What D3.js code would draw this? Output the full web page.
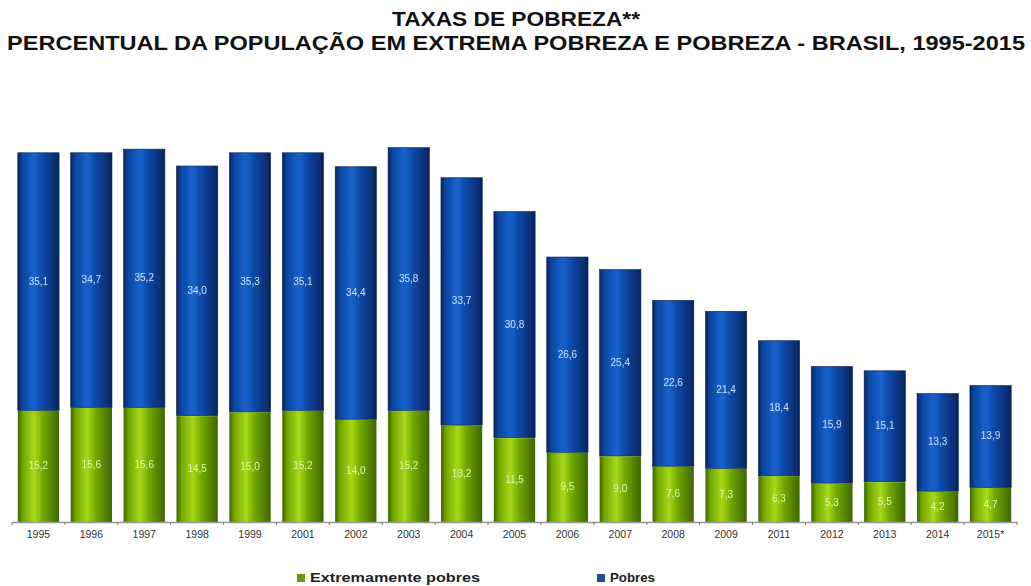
<!DOCTYPE html>
<html>
<head>
<meta charset="utf-8">
<script src="https://cdn.jsdelivr.net/npm/d3@7"></script>
<style>
  html, body { margin: 0; padding: 0; background: #ffffff; }
  svg { display: block; }
</style>
</head>
<body>
<svg id="chart" width="1031" height="586"></svg>
<script>
// Anos da série (2015* = dado preliminar)
const years = ["1995","1996","1997","1998","1999","2001","2002","2003","2004","2005",
               "2006","2007","2008","2009","2011","2012","2013","2014","2015*"];
// Percentual em extrema pobreza
const extremos = [15.2,15.6,15.6,14.5,15.0,15.2,14.0,15.2,13.2,11.5,
                  9.5,9.0,7.6,7.3,6.3,5.3,5.5,4.2,4.7];
// Percentual em pobreza (segmento empilhado acima)
const pobres = [35.1,34.7,35.2,34.0,35.3,35.1,34.4,35.8,33.7,30.8,
                26.6,25.4,22.6,21.4,18.4,15.9,15.1,13.3,13.9];
const seriesNames = ["Extremamente pobres", "Pobres"];

const svg = d3.select("#chart");
const W = 1031, H = 586;
const margin = { left: 12, right: 14 };
const baseY = 522;
const pxPerUnit = 7.34;

const x = d3.scaleBand().domain(years).range([margin.left, W - margin.right])
  .paddingInner(0.22).paddingOuter(0.11);
const y = d3.scaleLinear().domain([0, 100]).range([baseY, baseY - 100 * pxPerUnit]);

const rows = years.map((yr, i) => ({ year: yr, ext: extremos[i], pob: pobres[i] }));
const stack = d3.stack().keys(["ext", "pob"])(rows);

// Gradientes horizontais dando aparência cilíndrica às barras
const defs = svg.append("defs");
function cyl(id, edge, mid, hi) {
  const g = defs.append("linearGradient").attr("id", id)
    .attr("x1", "0%").attr("x2", "100%").attr("y1", "0%").attr("y2", "0%");
  g.append("stop").attr("offset", "0%").attr("stop-color", edge);
  g.append("stop").attr("offset", "12%").attr("stop-color", mid);
  g.append("stop").attr("offset", "40%").attr("stop-color", hi);
  g.append("stop").attr("offset", "62%").attr("stop-color", mid);
  g.append("stop").attr("offset", "100%").attr("stop-color", edge);
}
cyl("gBlue", "#06245e", "#0a47a4", "#1862cc");
cyl("gGreen", "#3d6600", "#70a600", "#a8d818");
defs.append("filter").attr("id", "soft").append("feGaussianBlur").attr("stdDeviation", 0.5);

const fills = ["url(#gGreen)", "url(#gBlue)"];

// Título (fonte alta e condensada)
const title = svg.append("g").attr("font-family", "'Liberation Sans', Arial, sans-serif")
  .attr("font-weight", "bold").attr("fill", "#111").attr("text-anchor", "middle");
title.append("text").attr("x", 516).attr("y", 26).attr("font-size", 20.5)
  .attr("textLength", 248).attr("lengthAdjust", "spacingAndGlyphs")
  .text("TAXAS DE POBREZA**");
title.append("text").attr("x", 516).attr("y", 50).attr("font-size", 20.5)
  .attr("textLength", 1018).attr("lengthAdjust", "spacingAndGlyphs")
  .text("PERCENTUAL DA POPULAÇÃO EM EXTREMA POBREZA E POBREZA - BRASIL, 1995-2015");

// Barras empilhadas
const plot = svg.append("g").attr("filter", "url(#soft)");
stack.forEach((layer, li) => {
  plot.append("g").selectAll("rect").data(layer).join("rect")
    .attr("x", d => x(d.data.year))
    .attr("y", d => y(d[1]))
    .attr("width", x.bandwidth())
    .attr("height", d => y(d[0]) - y(d[1]))
    .attr("fill", fills[li])
    .attr("stroke", li === 1 ? "#0a2350" : "none")
    .attr("stroke-width", 0.6);
  // linha clara na junção entre os segmentos
  if (li === 0) {
    plot.append("g").selectAll("line").data(layer).join("line")
      .attr("x1", d => x(d.data.year)).attr("x2", d => x(d.data.year) + x.bandwidth())
      .attr("y1", d => y(d[1])).attr("y2", d => y(d[1]))
      .attr("stroke", "#b8e060").attr("stroke-width", 1.2);
  }
});

// Rótulos de valor no centro de cada segmento
const fmt = v => d3.format(".1f")(v).replace(".", ",");
const labels = svg.append("g").attr("font-family", "'Liberation Sans', Arial, sans-serif")
  .attr("font-size", 10).attr("text-anchor", "middle").attr("filter", "url(#soft)");
stack.forEach((layer, li) => {
  labels.append("g").selectAll("text").data(layer).join("text")
    .attr("x", d => x(d.data.year) + x.bandwidth() / 2)
    .attr("y", d => (y(d[0]) + y(d[1])) / 2 + 3)
    .attr("fill", li === 0 ? "#e4f3b8" : "#cfe0ff")
    .text(d => fmt(d[1] - d[0]));
});

// Eixo X
const xAxis = d3.axisBottom(x).tickSize(0).tickPadding(9);
const ax = svg.append("g").attr("transform", `translate(0,${baseY})`).call(xAxis);
ax.select(".domain").attr("stroke", "#999").attr("stroke-width", 1.4);
ax.selectAll("text").attr("font-family", "'Liberation Sans', Arial, sans-serif")
  .attr("font-size", 10.5).attr("fill", "#333");
// marcas entre as categorias
const step = x.step();
const edges = years.map(yr => x(yr) - x.paddingInner() * step / 2).concat([W - margin.right]);
ax.selectAll("line.sep").data(edges).join("line").attr("class", "sep")
  .attr("x1", d => d).attr("x2", d => d).attr("y1", 0).attr("y2", 3)
  .attr("stroke", "#777").attr("stroke-width", 1);

// Legenda
const leg = svg.append("g").attr("font-family", "'Liberation Sans', Arial, sans-serif")
  .attr("font-size", 12).attr("font-weight", "bold").attr("fill", "#222");
const legPos = [297, 597];
const legWidths = [170, 45];
const legColors = ["#6a9a10", "#1d4f8f"];
seriesNames.forEach((n, i) => {
  leg.append("rect").attr("x", legPos[i]).attr("y", 574).attr("width", 8).attr("height", 8)
    .attr("fill", legColors[i]);
  leg.append("text").attr("x", legPos[i] + 13).attr("y", 582)
    .attr("textLength", legWidths[i]).attr("lengthAdjust", "spacingAndGlyphs").text(n);
});
</script>
</body>
</html>
